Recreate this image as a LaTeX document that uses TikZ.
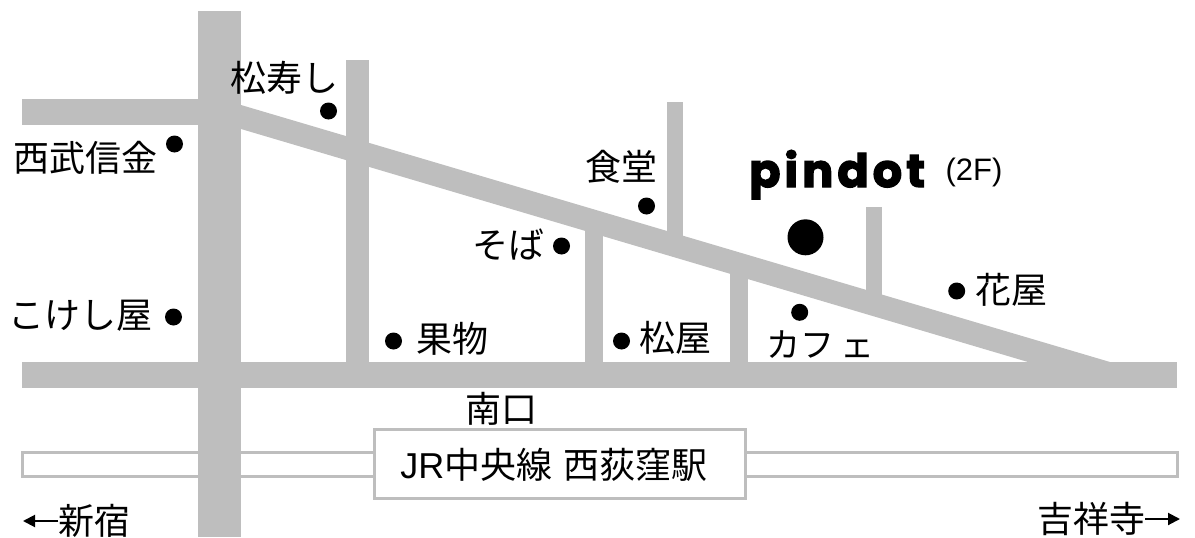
\documentclass[tikz,border=0pt]{standalone}
\usetikzlibrary{arrows.meta}
\usepackage{fontspec}
\setmainfont{Liberation Sans}
\newfontfamily\cjk{Noto Sans CJK JP}
\newfontfamily\pinfont{Poppins}[BoldFeatures={FakeBold=3,LetterSpace=9}]
\definecolor{roadgray}{gray}{0.745}

\begin{document}
\begin{tikzpicture}[
x=1pt,
y=-1pt,
>={Stealth[length=12pt,width=12pt,inset=0pt]},
road/.style={fill=roadgray,draw=none},
shop/.style={circle,fill=black,inner sep=0pt,minimum size=17pt},
label/.style={inner sep=0pt,font=\cjk\fontsize{36}{36}\selectfont},
]
\useasboundingbox (0,0) rectangle (1195,538);
% railway
\draw[roadgray,line width=3.5pt] (22.7,452.7) rectangle (1177.3,476.3);
% roads
\fill[road] (198,11) rectangle (241,537);
\fill[road] (22,99) rectangle (241,125);
\fill[road] (22,362) rectangle (1177,388);
\fill[road] (241,105) -- (1110,362) -- (1028,362) -- (241,129) -- cycle;
\fill[road] (346,60) rectangle (369,362);
\fill[road] (585,220) rectangle (603,362);
\fill[road] (730,265) rectangle (748,362);
\fill[road] (667,102) rectangle (683,240);
\fill[road] (866,207) rectangle (882,295);
% station
\node[draw=roadgray,fill=white,line width=3.5pt,minimum width=371pt,minimum height=69pt,inner sep=0pt] (station) at (560,464) {};
\node[label] (stationname) at (554,465) {\rmfamily JR\cjk 中央線\hspace{3pt} 西荻窪駅};
\node[label] (south) at (501,409) {南口};
% shops
\node[shop] (matsuzushidot) at (328.5,111) {};
\node[label] (matsuzushi) at (284,78) {松寿し};
\node[shop] (seibudot) at (174.5,144) {};
\node[label] (seibu) at (85,158) {西武信金};
\node[shop] (kokeshidot) at (173.5,317) {};
\node[label] (kokeshi) at (81,316) {こけし屋};
\node[shop] (fruitdot) at (393.5,341) {};
\node[label] (fruit) at (452,339) {果物};
\node[shop] (sobadot) at (561.5,246) {};
\node[label] (soba) at (508,245) {そば};
\node[shop] (shokudotdot) at (646.5,206) {};
\node[label] (shokudo) at (621,167) {食堂};
\node[shop] (matsuyadot) at (621.5,341) {};
\node[label] (matsuya) at (675,338) {松屋};
\node[shop] (cafedot) at (799.7,312.3) {};
\node[label] (cafe) at (820.5,345) {\fontsize{34}{34}\selectfont カフ\,ェ};
\node[shop] (flowerdot) at (956.7,291) {};
\node[label] (flower) at (1011,290) {花屋};
% pindot
\node[shop,minimum size=36pt] (pindotdot) at (805.5,237.3) {};
\node[inner sep=0pt,anchor=base west,font=\pinfont\bfseries\fontsize{46}{46}\selectfont] (pindot) at (749,187) {pindot};
\node[inner sep=0pt,font=\rmfamily\fontsize{31}{31}\selectfont] (floor) at (974,172) {(2F)};
% directions
\node[label] (shinjuku) at (94.5,521) {新宿};
\coordinate (west) at (23,521);
\draw[->,line width=2pt] (shinjuku.west) -- (west);
\node[label] (kichijoji) at (1091,519) {吉祥寺};
\coordinate (east) at (1180,519);
\draw[->,line width=2pt] (kichijoji.east) -- (east);
\end{tikzpicture}
\end{document}
